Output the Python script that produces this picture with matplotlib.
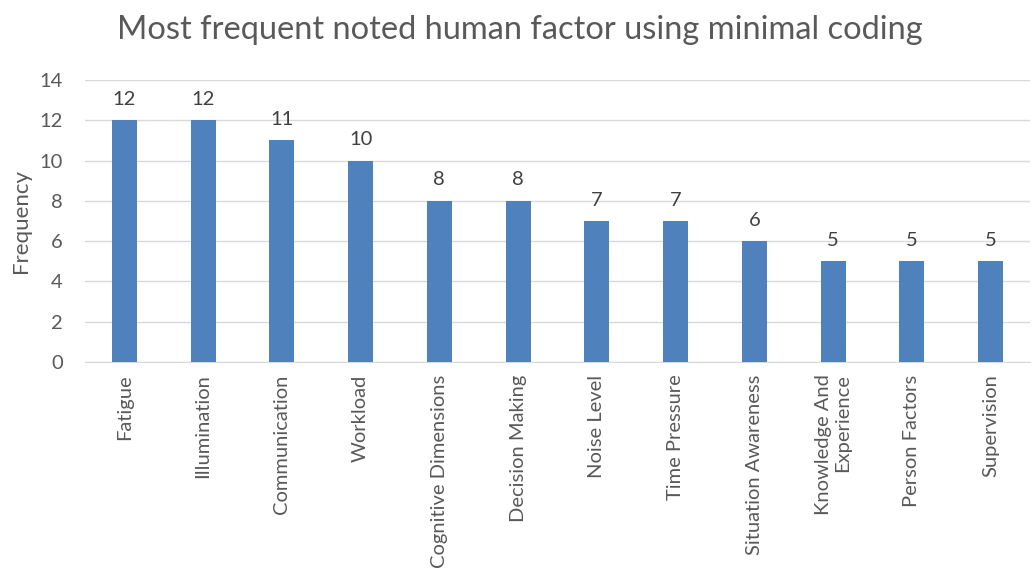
import matplotlib
matplotlib.use("Agg")
import matplotlib.pyplot as plt

categories = ["Fatigue", "Illumination", "Communication", "Workload",
              "Cognitive Dimensions", "Decision Making", "Noise Level",
              "Time Pressure", "Situation Awareness", "Knowledge And\nExperience",
              "Person Factors", "Supervision"]
values = [12, 12, 11, 10, 8, 8, 7, 7, 6, 5, 5, 5]
yticks = [0, 2, 4, 6, 8, 10, 12, 14]

plt.rcParams['font.family'] = ['Lato', 'DejaVu Sans']
txt = '#595959'

fig = plt.figure(figsize=(10.34, 5.72), dpi=100)
ax = fig.add_axes([85/1034, 1-362/572, (1030-85)/1034, (362-80)/572])

x = list(range(len(categories)))
bars = ax.bar(x, values, width=0.32, color='#4F81BD', zorder=3)
for xi, v in zip(x, values):
    ax.text(xi, v + 0.62, str(v), ha='center', va='bottom', fontsize=14.5, color='#404040')

ax.set_xlim(-0.5, len(categories) - 0.5)
ax.set_ylim(0, 14)
ax.set_yticks(yticks)
ax.set_yticklabels([str(t) for t in yticks], fontsize=14.5, color=txt)
ax.set_xticks(x)
ax.set_xticklabels(categories, rotation=90, fontsize=14.5, color=txt,
                   ha='center', va='top', multialignment='right')
ax.tick_params(axis='both', length=0)
ax.tick_params(axis='x', pad=9)
ax.tick_params(axis='y', pad=16)
ax.yaxis.grid(True, color='#D9D9D9', linewidth=1, zorder=0)
for s in ['top', 'right', 'left']:
    ax.spines[s].set_visible(False)
ax.spines['bottom'].set_color('#D9D9D9')
ax.set_ylabel('Frequency', fontsize=16, color=txt, labelpad=6)

fig.text(0.503, 0.948, 'Most frequent noted human factor using minimal coding',
         ha='center', va='center', fontsize=23.5, color=txt)

fig.savefig('out.png', dpi=100)
